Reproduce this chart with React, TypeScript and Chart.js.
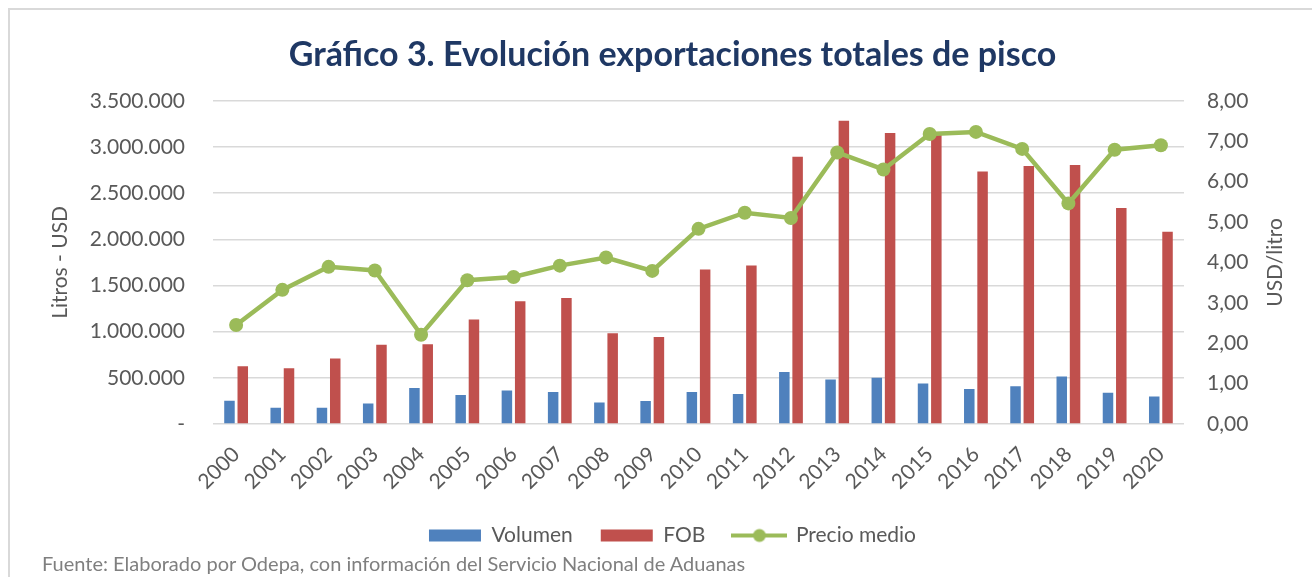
import React, { useEffect, useRef } from 'react';
import { Chart, registerables } from 'chart.js';

Chart.register(...registerables);

const years = ['2000', '2001', '2002', '2003', '2004', '2005', '2006', '2007', '2008', '2009', '2010', '2011', '2012', '2013', '2014', '2015', '2016', '2017', '2018', '2019', '2020'];
const volumen = [252000, 176000, 176000, 223000, 389000, 313000, 364000, 346000, 234000, 248000, 346000, 324000, 562000, 482000, 500000, 439000, 378000, 410000, 515000, 338000, 299000];
const fob = [626000, 605000, 709000, 857000, 864000, 1131000, 1328000, 1364000, 983000, 943000, 1674000, 1717000, 2894000, 3283000, 3150000, 3150000, 2735000, 2794000, 2804000, 2340000, 2081000];
const precioMedio = [2.45, 3.32, 3.89, 3.80, 2.21, 3.56, 3.64, 3.92, 4.12, 3.79, 4.83, 5.23, 5.10, 6.72, 6.30, 7.18, 7.23, 6.81, 5.46, 6.79, 6.90];

const seriesNames = ['Volumen', 'FOB', 'Precio medio'];
const leftAxisRange = [0, 3500000, 500000];
const rightAxisRange = [0, 8, 1];

const titleText = 'Gráfico 3. Evolución exportaciones totales de pisco';
const leftAxisTitle = 'Litros - USD';
const rightAxisTitle = 'USD/litro';
const sourceText = 'Fuente: Elaborado por Odepa, con información del Servicio Nacional de Aduanas';

const BLUE = '#4F81BD';
const RED = '#C0504D';
const GREEN = '#9BBB59';
const GRID = '#D9D9D9';
const TEXT = '#595959';
const FONT = 'Lato';

function fmtThousands(v: number): string {
  if (v === 0) return '-';
  return Math.round(v).toString().replace(/\B(?=(\d{3})+(?!\d))/g, '.');
}

export default function App() {
  const canvasRef = useRef<HTMLCanvasElement | null>(null);

  useEffect(() => {
    const canvas = canvasRef.current;
    if (!canvas) return;

    const icon = document.createElement('canvas');
    icon.width = 56;
    icon.height = 16;
    const ictx = icon.getContext('2d')!;
    ictx.strokeStyle = GREEN;
    ictx.lineWidth = 4;
    ictx.beginPath();
    ictx.moveTo(0, 8);
    ictx.lineTo(56, 8);
    ictx.stroke();
    ictx.fillStyle = GREEN;
    ictx.beginPath();
    ictx.arc(28, 8, 6.5, 0, Math.PI * 2);
    ictx.fill();

    const rightTitlePlugin = {
      id: 'rightTitle',
      afterDraw(chart: any) {
        const { ctx, chartArea } = chart;
        const s = chart.scales.y1;
        ctx.save();
        ctx.translate(s.right - 37, (chartArea.top + chartArea.bottom) / 2);
        ctx.rotate(-Math.PI / 2);
        ctx.font = `21px ${FONT}`;
        ctx.fillStyle = TEXT;
        ctx.textAlign = 'center';
        ctx.textBaseline = 'middle';
        ctx.fillText(rightAxisTitle, 0, 0);
        ctx.restore();
      },
    };

    const chart = new Chart(canvas, {
      type: 'bar',
      data: {
        labels: years,
        datasets: [
          {
            type: 'bar',
            label: seriesNames[0],
            data: volumen,
            backgroundColor: BLUE,
            borderWidth: 0,
            yAxisID: 'y',
            order: 1,
            categoryPercentage: 0.575,
            barPercentage: 0.79,
          },
          {
            type: 'bar',
            label: seriesNames[1],
            data: fob,
            backgroundColor: RED,
            borderWidth: 0,
            yAxisID: 'y',
            order: 1,
            categoryPercentage: 0.575,
            barPercentage: 0.79,
          },
          {
            type: 'line',
            label: seriesNames[2],
            data: precioMedio,
            borderColor: GREEN,
            backgroundColor: GREEN,
            borderWidth: 4.5,
            pointRadius: 7,
            pointBackgroundColor: GREEN,
            pointBorderWidth: 0,
            tension: 0,
            yAxisID: 'y1',
            order: 0,
          } as any,
        ],
      },
      options: {
        responsive: false,
        maintainAspectRatio: false,
        animation: false,
        layout: { padding: { left: 33, right: 0, top: 0, bottom: 21 } },
        plugins: {
          title: {
            display: true,
            text: titleText,
            color: '#1F3864',
            font: { family: FONT, size: 34, weight: 'bold' },
            padding: { top: 35, bottom: 25 },
          },
          legend: {
            display: true,
            position: 'bottom',
            labels: {
              usePointStyle: true,
              pointStyleWidth: 52,
              boxHeight: 12,
              padding: 28,
              color: TEXT,
              font: { family: FONT, size: 21 },
              sort: (a: any, b: any) => a.datasetIndex - b.datasetIndex,
              generateLabels: (c: any) => {
                const items = (Chart.defaults.plugins.legend.labels as any).generateLabels(c);
                return items.map((it: any) => ({
                  ...it,
                  pointStyle: it.datasetIndex === 2 ? icon : 'rect',
                  lineWidth: 0,
                  strokeStyle: 'rgba(0,0,0,0)',
                }));
              },
            },
          },
          tooltip: { enabled: false },
        },
        scales: {
          x: {
            grid: { display: false, drawTicks: false },
            border: { display: false },
            ticks: {
              color: TEXT,
              font: { family: FONT, size: 21 },
              minRotation: 45,
              maxRotation: 45,
              padding: 18,
              autoSkip: false,
            },
            afterFit: (s: any) => { s.height = 73; },
          },
          y: {
            position: 'left',
            min: leftAxisRange[0],
            max: leftAxisRange[1],
            grid: { color: GRID, lineWidth: 1.5, drawTicks: false },
            border: { display: false },
            ticks: {
              stepSize: leftAxisRange[2],
              color: TEXT,
              font: { family: FONT, size: 21 },
              padding: 28,
              callback: (v: any) => fmtThousands(Number(v)),
            },
            title: {
              display: true,
              text: leftAxisTitle,
              color: TEXT,
              font: { family: FONT, size: 21 },
              padding: { top: 15, bottom: 0 },
            },
            afterFit: (s: any) => { s.width = 180; },
          },
          y1: {
            position: 'right',
            min: rightAxisRange[0],
            max: rightAxisRange[1],
            grid: { display: false, drawTicks: false },
            border: { display: false },
            ticks: {
              stepSize: rightAxisRange[2],
              color: TEXT,
              font: { family: FONT, size: 21 },
              padding: 23,
              callback: (v: any) => Number(v).toFixed(2).replace('.', ','),
            },
            afterFit: (s: any) => { s.width = 128; },
          },
        },
      },
      plugins: [rightTitlePlugin],
    });

    return () => chart.destroy();
  }, []);

  return (
    <div style={{ position: 'fixed', left: 0, top: 0, width: 1312, height: 577, overflow: 'hidden', background: '#fff' }}>
      <div style={{ position: 'absolute', left: 8, top: 8, width: 1400, height: 700, border: '2px solid #D9D9D9', boxSizing: 'border-box' }} />
      <canvas ref={canvasRef} width={1312} height={577} style={{ position: 'absolute', left: 0, top: 0, width: 1312, height: 577 }} />
      <div style={{ position: 'absolute', left: 42, top: 551, fontFamily: FONT, fontSize: 20, color: '#7F7F7F', whiteSpace: 'nowrap', lineHeight: '24px' }}>
        {sourceText}
      </div>
    </div>
  );
}
